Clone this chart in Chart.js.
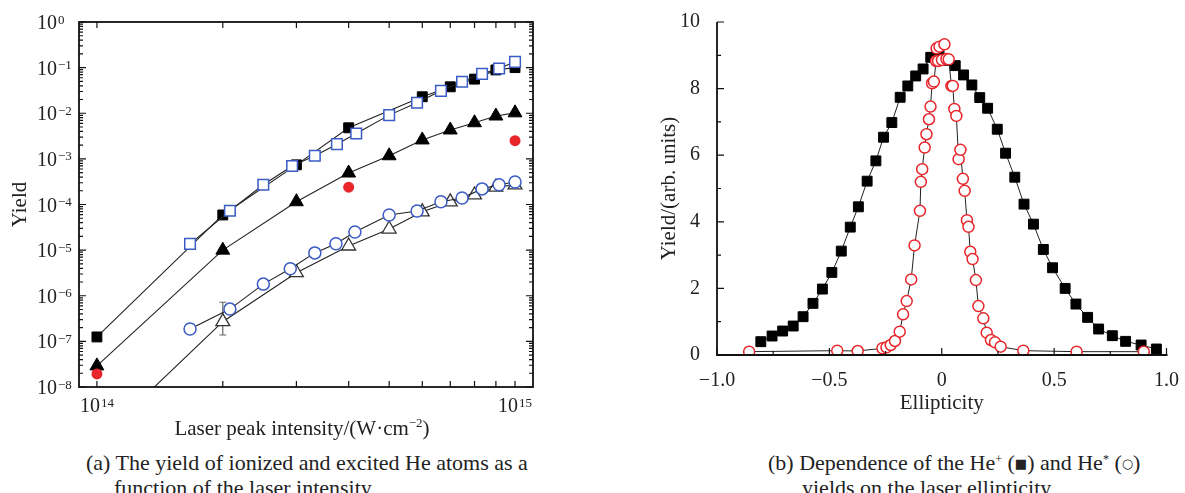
<!DOCTYPE html>
<html>
<head>
<meta charset="utf-8">
<script src="https://cdn.jsdelivr.net/npm/chart.js@4.4.1/dist/chart.umd.min.js"></script>
<style>
  body { margin: 0; background: #fff; width: 1185px; height: 493px; overflow: hidden; position: relative;
         font-family: 'Liberation Serif', 'Times New Roman', serif; color: #222; }
  canvas { position: absolute; top: 0; }
  #chartA { left: 0; }
  #chartB { left: 600px; }
  .cap { position: absolute; font-size: 22px; line-height: 25px; white-space: nowrap; }
  .cap sup { font-size: 12px; vertical-align: 7px; line-height: 0; }
  .cap .sym { font-family: 'DejaVu Sans', sans-serif; font-size: 13px; vertical-align: 2px; }
</style>
</head>
<body>
<canvas id="chartA" width="600" height="445"></canvas>
<canvas id="chartB" width="585" height="445"></canvas>

<div class="cap" style="left:86px; top:450px;">(a) The yield of ionized and excited He atoms as a</div>
<div class="cap" style="left:114px; top:475px;">function of the laser intensity</div>
<div class="cap" style="left:768px; top:450px;">(b) Dependence of the He<sup>+</sup> (<span class="sym">■</span>) and He<sup>*</sup> (<span class="sym">○</span>)</div>
<div class="cap" style="left:802px; top:475px;">yields on the laser ellipticity</div>

<script>
const FONT = "'Liberation Serif', 'Times New Roman', serif";
const INK = '#222';
const BLUE = '#3b5bc5';
const RED = '#e8262b';

// ---- (a) yield vs laser intensity (W/cm^2) ----
const sqX = [1e14, 2e14, 3e14, 4e14, 6e14, 7e14, 8e14, 9e14, 1e15];
const sqY = [1.25e-7, 5.9e-5, 7.4e-4, 4.8e-3, 0.023, 0.038, 0.056, 0.089, 0.10];

const openSqX = [1.67e14, 2.08e14, 2.5e14, 2.93e14, 3.32e14, 3.75e14, 4.17e14, 5.0e14, 5.83e14, 6.65e14, 7.47e14, 8.34e14, 9.16e14, 1.0e15];
const openSqY = [1.37e-5, 7.3e-5, 2.7e-4, 7.0e-4, 1.17e-3, 2.1e-3, 3.6e-3, 9.1e-3, 0.017, 0.031, 0.049, 0.073, 0.096, 0.134];

const triX = [1e14, 2e14, 3e14, 4e14, 5e14, 6e14, 7e14, 8e14, 9e14, 1e15];
const triY = [2.9e-8, 1.0e-5, 1.15e-4, 4.9e-4, 1.17e-3, 2.6e-3, 4.3e-3, 6.2e-3, 8.7e-3, 0.0102];

const circX = [1.67e14, 2.08e14, 2.5e14, 2.9e14, 3.32e14, 3.73e14, 4.14e14, 5.0e14, 5.83e14, 6.65e14, 7.47e14, 8.34e14, 9.16e14, 1e15];
const circY = [1.87e-7, 5.1e-7, 1.8e-6, 3.9e-6, 8.7e-6, 1.38e-5, 2.5e-5, 5.9e-5, 7.2e-5, 1.15e-4, 1.39e-4, 2.2e-4, 2.7e-4, 3.1e-4];

const openTriX = [1e14, 2e14, 3e14, 4e14, 5e14, 6e14, 7e14, 8e14, 9e14, 1e15];
const openTriY = [6.3e-10, 2.7e-7, 3.2e-6, 1.23e-5, 2.9e-5, 6.9e-5, 1.14e-4, 1.62e-4, 2.4e-4, 2.7e-4];

const redX = [1e14, 4e14, 1e15];
const redY = [1.93e-8, 2.4e-4, 2.5e-3];

// error bar on the open triangle at 2e14
const errX = [2e14];
const errLo = [1.38e-7];
const errHi = [7.2e-7];

const yExps = [-8, -7, -6, -5, -4, -3, -2, -1, 0];
const xExps = [14, 15];

// ---- (b) yield vs ellipticity ----
const hePlusX = [-0.805, -0.755, -0.708, -0.661, -0.617, -0.573, -0.531, -0.489, -0.447, -0.407, -0.371, -0.332,
  -0.293, -0.259, -0.222, -0.185, -0.151, -0.116, -0.083, -0.049, -0.012, 0.024, 0.060, 0.097, 0.134, 0.169,
  0.204, 0.247, 0.284, 0.325, 0.366, 0.408, 0.452, 0.493, 0.549, 0.597, 0.649, 0.698, 0.759, 0.818, 0.887, 0.955];
const hePlusY = [0.40, 0.57, 0.72, 0.87, 1.15, 1.55, 1.98, 2.48, 3.12, 3.84, 4.45, 5.22,
  5.83, 6.54, 6.98, 7.74, 8.08, 8.38, 8.59, 8.94, 9.00, 8.85, 8.69, 8.41, 8.11, 7.73,
  7.41, 6.78, 6.06, 5.34, 4.53, 3.93, 3.17, 2.62, 2.00, 1.53, 1.13, 0.78, 0.58, 0.41, 0.30, 0.18];

const heStarX = [-0.857, -0.465, -0.374, -0.264, -0.246, -0.227, -0.208, -0.187, -0.172, -0.156, -0.136, -0.121,
  -0.097, -0.093, -0.087, -0.076, -0.068, -0.057, -0.050, -0.043, -0.035, -0.025, -0.016, -0.023, -0.010, 0.012,
  0.001, 0.021, 0.031, 0.043, 0.049, 0.056, 0.065, 0.075, 0.083, 0.094, 0.102, 0.112, 0.119, 0.127, 0.137,
  0.152, 0.163, 0.185, 0.200, 0.219, 0.237, 0.262, 0.363, 0.600, 0.899];
const heStarY = [0.10, 0.13, 0.12, 0.20, 0.23, 0.30, 0.42, 0.70, 1.22, 1.62, 2.27, 3.29,
  4.33, 5.20, 5.58, 6.23, 6.63, 7.08, 7.46, 8.16, 8.21, 8.83, 8.83, 9.21, 9.26, 9.33,
  8.86, 8.89, 8.88, 8.08, 8.08, 7.39, 7.18, 5.88, 6.16, 5.29, 4.93, 4.05, 3.85, 3.10, 2.88,
  2.25, 1.47, 1.10, 0.67, 0.45, 0.38, 0.25, 0.13, 0.10, 0.10];

const ellTicks = [-1, -0.5, 0, 0.5, 1];
const ellTickLabels = ['\u22121.0', '\u22120.5', '0', '0.5', '1.0'];
const yieldTicks = [0, 2, 4, 6, 8, 10];

function pts(xs, ys) {
  return xs.map((x, i) => ({ x: x, y: ys[i] }));
}

Chart.defaults.font.family = FONT;
Chart.defaults.color = INK;

// "10" with a raised exponent, y is the middle of the digits
function drawPower(ctx, exp, x, y, centred) {
  ctx.font = '20px ' + FONT;
  const wBase = ctx.measureText('10').width;
  ctx.font = '13px ' + FONT;
  const wExp = ctx.measureText(exp).width;
  const x0 = centred ? x - (wBase + wExp + 1) / 2 : x;
  ctx.textAlign = 'left';
  ctx.textBaseline = 'alphabetic';
  ctx.font = '20px ' + FONT;
  ctx.fillText('10', x0, y + 7);
  ctx.font = '13px ' + FONT;
  ctx.fillText(exp, x0 + wBase + 1, y + 1.5);
}

function expText(e) {
  return e < 0 ? '\u2212' + Math.abs(e) : String(e);
}

const logFrame = {
  id: 'logFrame',
  beforeDatasetsDraw(chart) {
    const { ctx, scales: { x, y } } = chart;
    ctx.save();
    ctx.strokeStyle = '#666';
    ctx.lineWidth = 1.2;
    errX.forEach((v, i) => {
      const px = x.getPixelForValue(v);
      const top = y.getPixelForValue(errHi[i]);
      const bot = y.getPixelForValue(errLo[i]);
      ctx.beginPath();
      ctx.moveTo(px, top); ctx.lineTo(px, bot);
      ctx.moveTo(px - 3.5, top); ctx.lineTo(px + 3.5, top);
      ctx.moveTo(px - 3.5, bot); ctx.lineTo(px + 3.5, bot);
      ctx.stroke();
    });
    ctx.restore();
  },
  afterDraw(chart) {
    const { ctx, chartArea: a, scales: { x, y } } = chart;
    ctx.save();
    ctx.strokeStyle = '#111';
    ctx.fillStyle = INK;
    ctx.lineWidth = 1.8;
    ctx.strokeRect(a.left, a.top, a.right - a.left, a.bottom - a.top);

    ctx.lineWidth = 1.2;
    ctx.beginPath();
    // decade ticks on left and right, minor ticks in between
    for (let e = yExps[0]; e <= yExps[yExps.length - 1]; e++) {
      for (let m = 1; m <= 9; m++) {
        if (e === 0 && m > 1) break;
        const py = y.getPixelForValue(m * Math.pow(10, e));
        const len = m === 1 ? 7 : 4;
        ctx.moveTo(a.left, py); ctx.lineTo(a.left + len, py);
        ctx.moveTo(a.right, py); ctx.lineTo(a.right - len, py);
      }
    }
    // intensity ticks top and bottom
    for (let m = 1; m <= 10; m++) {
      const px = x.getPixelForValue(m * 1e14);
      ctx.moveTo(px, a.top); ctx.lineTo(px, a.top + 6);
      ctx.moveTo(px, a.bottom); ctx.lineTo(px, a.bottom - 6);
    }
    ctx.stroke();

    yExps.forEach(e => drawPower(ctx, expText(e), 37, y.getPixelForValue(Math.pow(10, e)), false));
    xExps.forEach(e => drawPower(ctx, expText(e), x.getPixelForValue(Math.pow(10, e)), 405, true));

    // x title with superscript
    const t1 = 'Laser peak intensity/(W\u00b7cm', t2 = '\u22122', t3 = ')';
    ctx.font = '21px ' + FONT;
    const w1 = ctx.measureText(t1).width, w3 = ctx.measureText(t3).width;
    ctx.font = '13px ' + FONT;
    const w2 = ctx.measureText(t2).width;
    let tx = 302 - (w1 + w2 + w3) / 2;
    ctx.textAlign = 'left';
    ctx.textBaseline = 'alphabetic';
    ctx.font = '21px ' + FONT;
    ctx.fillText(t1, tx, 435);
    ctx.font = '13px ' + FONT;
    ctx.fillText(t2, tx + w1, 427);
    ctx.font = '21px ' + FONT;
    ctx.fillText(t3, tx + w1 + w2, 435);

    // y title
    ctx.translate(20, (a.top + a.bottom) / 2);
    ctx.rotate(-Math.PI / 2);
    ctx.textAlign = 'center';
    ctx.textBaseline = 'middle';
    ctx.fillText('Yield', 0, 0);
    ctx.restore();
  }
};

new Chart(document.getElementById('chartA'), {
  type: 'scatter',
  data: {
    datasets: [
      { data: pts(redX, redY), showLine: false, pointStyle: 'circle', pointRadius: 5.5,
        pointBackgroundColor: RED, pointBorderColor: RED, pointBorderWidth: 0 },
      { data: pts(openSqX, openSqY), showLine: true, borderColor: INK, borderWidth: 1.1,
        pointStyle: 'rect', pointRadius: 7.5, pointBackgroundColor: '#fff', pointBorderColor: BLUE, pointBorderWidth: 1.5 },
      { data: pts(circX, circY), showLine: true, borderColor: INK, borderWidth: 1.1,
        pointStyle: 'circle', pointRadius: 6, pointBackgroundColor: '#fff', pointBorderColor: BLUE, pointBorderWidth: 1.5 },
      { data: pts(sqX, sqY), showLine: true, borderColor: INK, borderWidth: 1.1,
        pointStyle: 'rect', pointRadius: 7, pointBackgroundColor: '#000', pointBorderColor: '#000', pointBorderWidth: 1 },
      { data: pts(triX, triY), showLine: true, borderColor: INK, borderWidth: 1.1,
        pointStyle: 'triangle', pointRadius: 8, pointBackgroundColor: '#000', pointBorderColor: '#000', pointBorderWidth: 1 },
      { data: pts(openTriX, openTriY), showLine: true, borderColor: INK, borderWidth: 1.1,
        pointStyle: 'triangle', pointRadius: 8, pointBackgroundColor: '#fff', pointBorderColor: '#333', pointBorderWidth: 1.3 }
    ]
  },
  options: {
    responsive: false,
    animation: false,
    events: [],
    layout: { padding: { left: 79, top: 22, right: 67, bottom: 58 } },
    plugins: { legend: { display: false }, tooltip: { enabled: false } },
    scales: {
      x: { type: 'logarithmic', min: 9.06e13, max: 1.104e15, display: false },
      y: { type: 'logarithmic', min: 1e-8, max: 1, display: false }
    }
  },
  plugins: [logFrame]
});

// inward tick marks and axis lines for the ellipticity plot
const inwardAxes = {
  id: 'inwardAxes',
  afterDraw(chart) {
    const { ctx, chartArea: a, scales: { x, y } } = chart;
    ctx.save();
    ctx.strokeStyle = '#111';
    ctx.lineWidth = 1.8;
    ctx.beginPath();
    ctx.moveTo(a.left, a.top); ctx.lineTo(a.left, a.bottom); ctx.lineTo(a.right + 1, a.bottom);
    ctx.stroke();
    ctx.lineWidth = 1.2;
    ctx.beginPath();
    for (let i = 0; i < yieldTicks.length; i++) {
      const py = y.getPixelForValue(yieldTicks[i]);
      ctx.moveTo(a.left, py); ctx.lineTo(a.left + 7, py);
      if (i > 0) {
        const pm = y.getPixelForValue((yieldTicks[i] + yieldTicks[i - 1]) / 2);
        ctx.moveTo(a.left, pm); ctx.lineTo(a.left + 4, pm);
      }
    }
    for (let i = 0; i < ellTicks.length; i++) {
      const px = x.getPixelForValue(ellTicks[i]);
      ctx.moveTo(px, a.bottom); ctx.lineTo(px, a.bottom - 7);
      if (i > 0) {
        const pm = x.getPixelForValue((ellTicks[i] + ellTicks[i - 1]) / 2);
        ctx.moveTo(pm, a.bottom); ctx.lineTo(pm, a.bottom - 4);
      }
    }
    ctx.stroke();
    ctx.restore();
  }
};

new Chart(document.getElementById('chartB'), {
  type: 'scatter',
  data: {
    datasets: [
      { data: pts(heStarX, heStarY), showLine: true, borderColor: INK, borderWidth: 1,
        pointStyle: 'circle', pointRadius: 5.5, pointBackgroundColor: '#fff', pointBorderColor: RED, pointBorderWidth: 1.5 },
      { data: pts(hePlusX, hePlusY), showLine: true, borderColor: INK, borderWidth: 1,
        pointStyle: 'rect', pointRadius: 7, pointBackgroundColor: '#000', pointBorderColor: '#000', pointBorderWidth: 1 }
    ]
  },
  options: {
    responsive: false,
    animation: false,
    events: [],
    layout: { padding: { left: 0, top: 22, right: 14, bottom: 0 } },
    plugins: { legend: { display: false }, tooltip: { enabled: false } },
    scales: {
      x: {
        type: 'linear', min: -1, max: 1,
        grid: { display: false }, border: { display: false },
        afterBuildTicks: s => { s.ticks = ellTicks.map(v => ({ value: v })); },
        ticks: { padding: 6, color: INK, font: { size: 20 }, maxRotation: 0,
                 callback: (v, i) => ellTickLabels[i] },
        title: { display: true, text: 'Ellipticity', color: INK, font: { size: 21 }, padding: { top: 0, bottom: 29 } },
        afterFit: s => { s.height = 90; }
      },
      y: {
        type: 'linear', min: 0, max: 10,
        grid: { display: false }, border: { display: false },
        afterBuildTicks: s => { s.ticks = yieldTicks.map(v => ({ value: v })); },
        ticks: { padding: 9, color: INK, font: { size: 20 } },
        title: { display: true, text: 'Yield/(arb. units)', color: INK, font: { size: 21 }, padding: { top: 57, bottom: 0 } },
        afterFit: s => { s.width = 117; }
      }
    }
  },
  plugins: [inwardAxes]
});
</script>
</body>
</html>
